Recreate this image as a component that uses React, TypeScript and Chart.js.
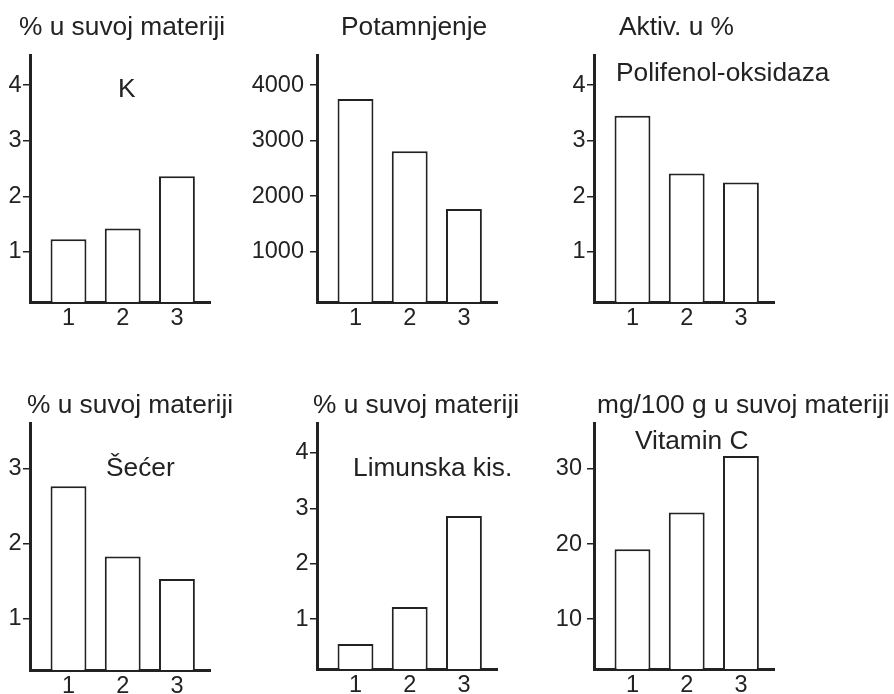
import React, { useEffect, useRef } from 'react';
import { Chart, registerables } from 'chart.js';

Chart.register(...registerables);

// ---- data ----
const categories = ['1', '2', '3'];
const kValues = [1.23, 1.42, 2.36];
const potamnjenjeValues = [3750, 2810, 1770];
const polifenolValues = [3.45, 2.41, 2.25];
const secerValues = [2.77, 1.83, 1.53];
const limunskaValues = [0.55, 1.22, 2.86];
const vitaminCValues = [19.3, 24.2, 31.7];

const percentTicks = [1, 2, 3, 4];
const potamnjenjeTicks = [1000, 2000, 3000, 4000];
const secerTicks = [1, 2, 3];
const vitaminCTicks = [10, 20, 30];

const titles = [
  '% u suvoj materiji',
  'Potamnjenje',
  'Aktiv. u %',
  '% u suvoj materiji',
  '% u suvoj materiji',
  'mg/100 g u suvoj materiji',
];
const innerLabels = ['K', '', 'Polifenol-oksidaza', 'Šećer', 'Limunska kis.', 'Vitamin C'];

// ---- style / layout ----
const INK = '#222222';
const FONT = '"Liberation Sans", Arial, Helvetica, sans-serif';
const TITLE_SIZE = 26.3;
const TICK_SIZE = 23.5;

type PanelCfg = {
  values: number[];
  ticks: number[];
  min: number;
  max: number;
  title: string;
  label: string;
  cell: [number, number, number, number];
  area: [number, number, number, number];
  titlePos: [number, number];
  labelPos: [number, number];
  tickPad: number;
};

const panels: PanelCfg[] = [
  { values: kValues, ticks: percentTicks, min: 0.1, max: 4.54, title: titles[0], label: innerLabels[0],
    cell: [0, 0, 240, 347], area: [30, 55, 210, 302], titlePos: [19, 35], labelPos: [118, 97], tickPad: 1.5 },
  { values: potamnjenjeValues, ticks: potamnjenjeTicks, min: 94, max: 4544, title: titles[1], label: innerLabels[1],
    cell: [240, 0, 320, 347], area: [317, 55, 497, 302], titlePos: [341, 35], labelPos: [0, 0], tickPad: 6 },
  { values: polifenolValues, ticks: percentTicks, min: 0.1, max: 4.54, title: titles[2], label: innerLabels[2],
    cell: [560, 0, 334, 347], area: [594, 55, 774, 302], titlePos: [619, 35], labelPos: [616, 81], tickPad: 1.5 },
  { values: secerValues, ticks: secerTicks, min: 0.314, max: 3.614, title: titles[3], label: innerLabels[3],
    cell: [0, 347, 240, 347], area: [30, 423, 210, 670], titlePos: [27, 413], labelPos: [106, 476], tickPad: 1.5 },
  { values: limunskaValues, ticks: percentTicks, min: 0.1, max: 4.54, title: titles[4], label: innerLabels[4],
    cell: [240, 347, 305, 347], area: [317, 423, 497, 669], titlePos: [313, 413], labelPos: [353, 476], tickPad: 1.5 },
  { values: vitaminCValues, ticks: vitaminCTicks, min: 3.38, max: 36.1, title: titles[5], label: innerLabels[5],
    cell: [545, 347, 349, 347], area: [594, 423, 774, 669], titlePos: [597, 413], labelPos: [635, 449], tickPad: 5 },
];

function Panel({ p }: { p: PanelCfg }) {
  const ref = useRef<HTMLCanvasElement>(null);
  const [cx, cy, cw, ch] = p.cell;

  useEffect(() => {
    if (!ref.current) return;
    const left = p.area[0] - cx;
    const top = p.area[1] - cy;
    const right = p.area[2] - cx;
    const bottom = p.area[3] - cy;
    const tickFont = { family: FONT, size: TICK_SIZE };

    const textPlugin = {
      id: 'panelText',
      afterDraw(chart: any) {
        const ctx = chart.ctx;
        ctx.save();
        ctx.fillStyle = INK;
        ctx.font = `${TITLE_SIZE}px ${FONT}`;
        ctx.textBaseline = 'alphabetic';
        ctx.textAlign = 'left';
        ctx.fillText(p.title, p.titlePos[0] - cx, p.titlePos[1] - cy);
        if (p.label) ctx.fillText(p.label, p.labelPos[0] - cx, p.labelPos[1] - cy);
        ctx.restore();
      },
    };

    const chart = new Chart(ref.current, {
      type: 'bar',
      data: {
        datasets: [
          {
            data: p.values.map((v, i) => ({ x: i + 1, y: v })) as any,
            backgroundColor: '#ffffff',
            borderColor: INK,
            borderWidth: 2,
            barPercentage: 0.662,
            categoryPercentage: 1,
          },
        ],
      },
      options: {
        responsive: false,
        animation: false,
        events: [],
        layout: { padding: { left: 0, top, right: cw - right, bottom: 0 } },
        plugins: {
          legend: { display: false },
          tooltip: { enabled: false },
          title: { display: false },
        },
        scales: {
          x: {
            type: 'linear',
            min: 0.29,
            max: 3.61,
            offset: false,
            afterBuildTicks: (s: any) => {
              s.ticks = categories.map((_, i) => ({ value: i + 1 }));
            },
            afterFit: (s: any) => {
              s.height = ch - bottom;
            },
            grid: { display: false, drawTicks: false },
            border: { display: true, color: INK, width: 3 },
            ticks: {
              callback: (v: any) => categories[Number(v) - 1] ?? '',
              font: tickFont,
              color: INK,
              padding: 2,
              maxRotation: 0,
              autoSkip: false,
            },
          },
          y: {
            type: 'linear',
            min: p.min,
            max: p.max,
            afterBuildTicks: (s: any) => {
              s.ticks = p.ticks.map((v) => ({ value: v }));
            },
            afterFit: (s: any) => {
              s.width = left;
            },
            grid: { drawOnChartArea: false, drawTicks: true, tickLength: 7, color: INK, lineWidth: 1.5 },
            border: { display: true, color: INK, width: 3 },
            ticks: {
              callback: (v: any) => String(v),
              font: tickFont,
              color: INK,
              padding: p.tickPad,
              autoSkip: false,
            },
          },
        },
      } as any,
      plugins: [textPlugin],
    });
    return () => chart.destroy();
  }, []);

  return (
    <canvas
      ref={ref}
      width={cw}
      height={ch}
      style={{ position: 'absolute', left: cx, top: cy, width: cw, height: ch }}
    />
  );
}

export default function App() {
  return (
    <div style={{ position: 'fixed', left: 0, top: 0, width: 894, height: 694, background: '#ffffff', overflow: 'hidden' }}>
      {panels.map((p, i) => (
        <Panel key={i} p={p} />
      ))}
    </div>
  );
}
